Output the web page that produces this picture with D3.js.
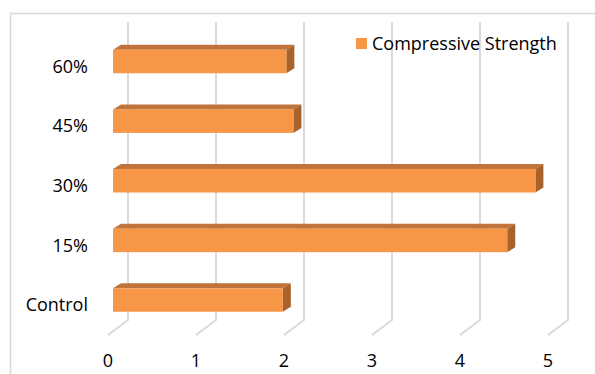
<!DOCTYPE html>
<html>
<head>
<meta charset="utf-8">
<script src="https://cdnjs.cloudflare.com/ajax/libs/d3/7.8.5/d3.min.js"></script>
<style>
  body { margin: 0; background: #fff; }
  svg { display: block; font-family: "Open Sans", sans-serif; }
</style>
</head>
<body>
<div class="chart"></div>
<script>
var categories = ["Control", "15%", "30%", "45%", "60%"];
var strength = [1.93, 4.48, 4.80, 2.05, 1.97];
var ticks = [0, 1, 2, 3, 4, 5];
var seriesName = "Compressive Strength";

var width = 595,
    height = 374;

// back wall of the 3d plot, the floor runs towards the viewer
var floorDx = -20, floorDy = 15;
var barFront = -15;          // bar front face offset from the back wall
var depthX = 8, depthY = -5; // bar thickness
var barH = 23.5;
var fontSize = 18;

var svg = d3.select(".chart").append("svg")
    .attr("width", width)
    .attr("height", height);

svg.append("rect")
    .attr("x", 10.5).attr("y", 13.5)
    .attr("width", 700).attr("height", 500)
    .attr("fill", "none")
    .attr("stroke", "#d9d9d9")
    .attr("stroke-width", 1.5);

var x = d3.scaleLinear().domain([0, 5]).range([128, 568]);
var y = d3.scalePoint().domain(categories.slice().reverse()).range([61.5, 300]);

var wallTop = 22, floorY = 320;

// gridlines: back wall + floor diagonal
var grid = svg.append("g")
    .attr("fill", "none")
    .attr("stroke", "#dadada")
    .attr("stroke-width", 2);

grid.selectAll("path")
    .data(ticks)
  .enter().append("path")
    .attr("d", function(d) {
      return "M" + x(d) + "," + wallTop + "V" + floorY +
        "L" + (x(d) + floorDx) + "," + (floorY + floorDy);
    });

// x tick labels at front edge of the floor
svg.append("g").selectAll("text")
    .data(ticks)
  .enter().append("text")
    .attr("x", function(d) { return x(d) + floorDx; })
    .attr("y", 367)
    .attr("text-anchor", "middle")
    .attr("font-size", fontSize)
    .attr("fill", "#000")
    .text(function(d) { return d; });

// category labels
svg.append("g").selectAll("text")
    .data(categories)
  .enter().append("text")
    .attr("x", 88)
    .attr("y", function(d) { return y(d) + 5; })
    .attr("dy", "0.35em")
    .attr("text-anchor", "end")
    .attr("font-size", fontSize)
    .attr("fill", "#000")
    .text(function(d) { return d; });

// bars
var bars = svg.append("g").selectAll("g")
    .data(categories.map(function(c, i) { return {cat: c, value: strength[i]}; }))
  .enter().append("g");

bars.append("path")
    .attr("fill", "#c0733a")
    .attr("d", function(d) {
      var x0 = x(0) + barFront, x1 = x(d.value) + barFront, t = y(d.cat) - barH / 2;
      return "M" + x0 + "," + t + "L" + (x0 + depthX) + "," + (t + depthY) +
        "H" + (x1 + depthX) + "L" + x1 + "," + t + "Z";
    });

bars.append("path")
    .attr("fill", "#a8622c")
    .attr("d", function(d) {
      var x1 = x(d.value) + barFront, t = y(d.cat) - barH / 2, b = t + barH;
      return "M" + x1 + "," + t + "L" + (x1 + depthX) + "," + (t + depthY) +
        "V" + (b + depthY) + "L" + x1 + "," + b + "Z";
    });

bars.append("rect")
    .attr("fill", "#f79646")
    .attr("x", x(0) + barFront)
    .attr("y", function(d) { return y(d.cat) - barH / 2; })
    .attr("width", function(d) { return x(d.value) - x(0); })
    .attr("height", barH);

// legend
var legend = svg.append("g").attr("transform", "translate(356,38)");
legend.append("rect")
    .attr("width", 11).attr("height", 11)
    .attr("fill", "#f79646");
legend.append("text")
    .attr("x", 16)
    .attr("y", 11.5)
    .attr("font-size", fontSize)
    .attr("fill", "#000")
    .text(seriesName);
</script>
</body>
</html>
